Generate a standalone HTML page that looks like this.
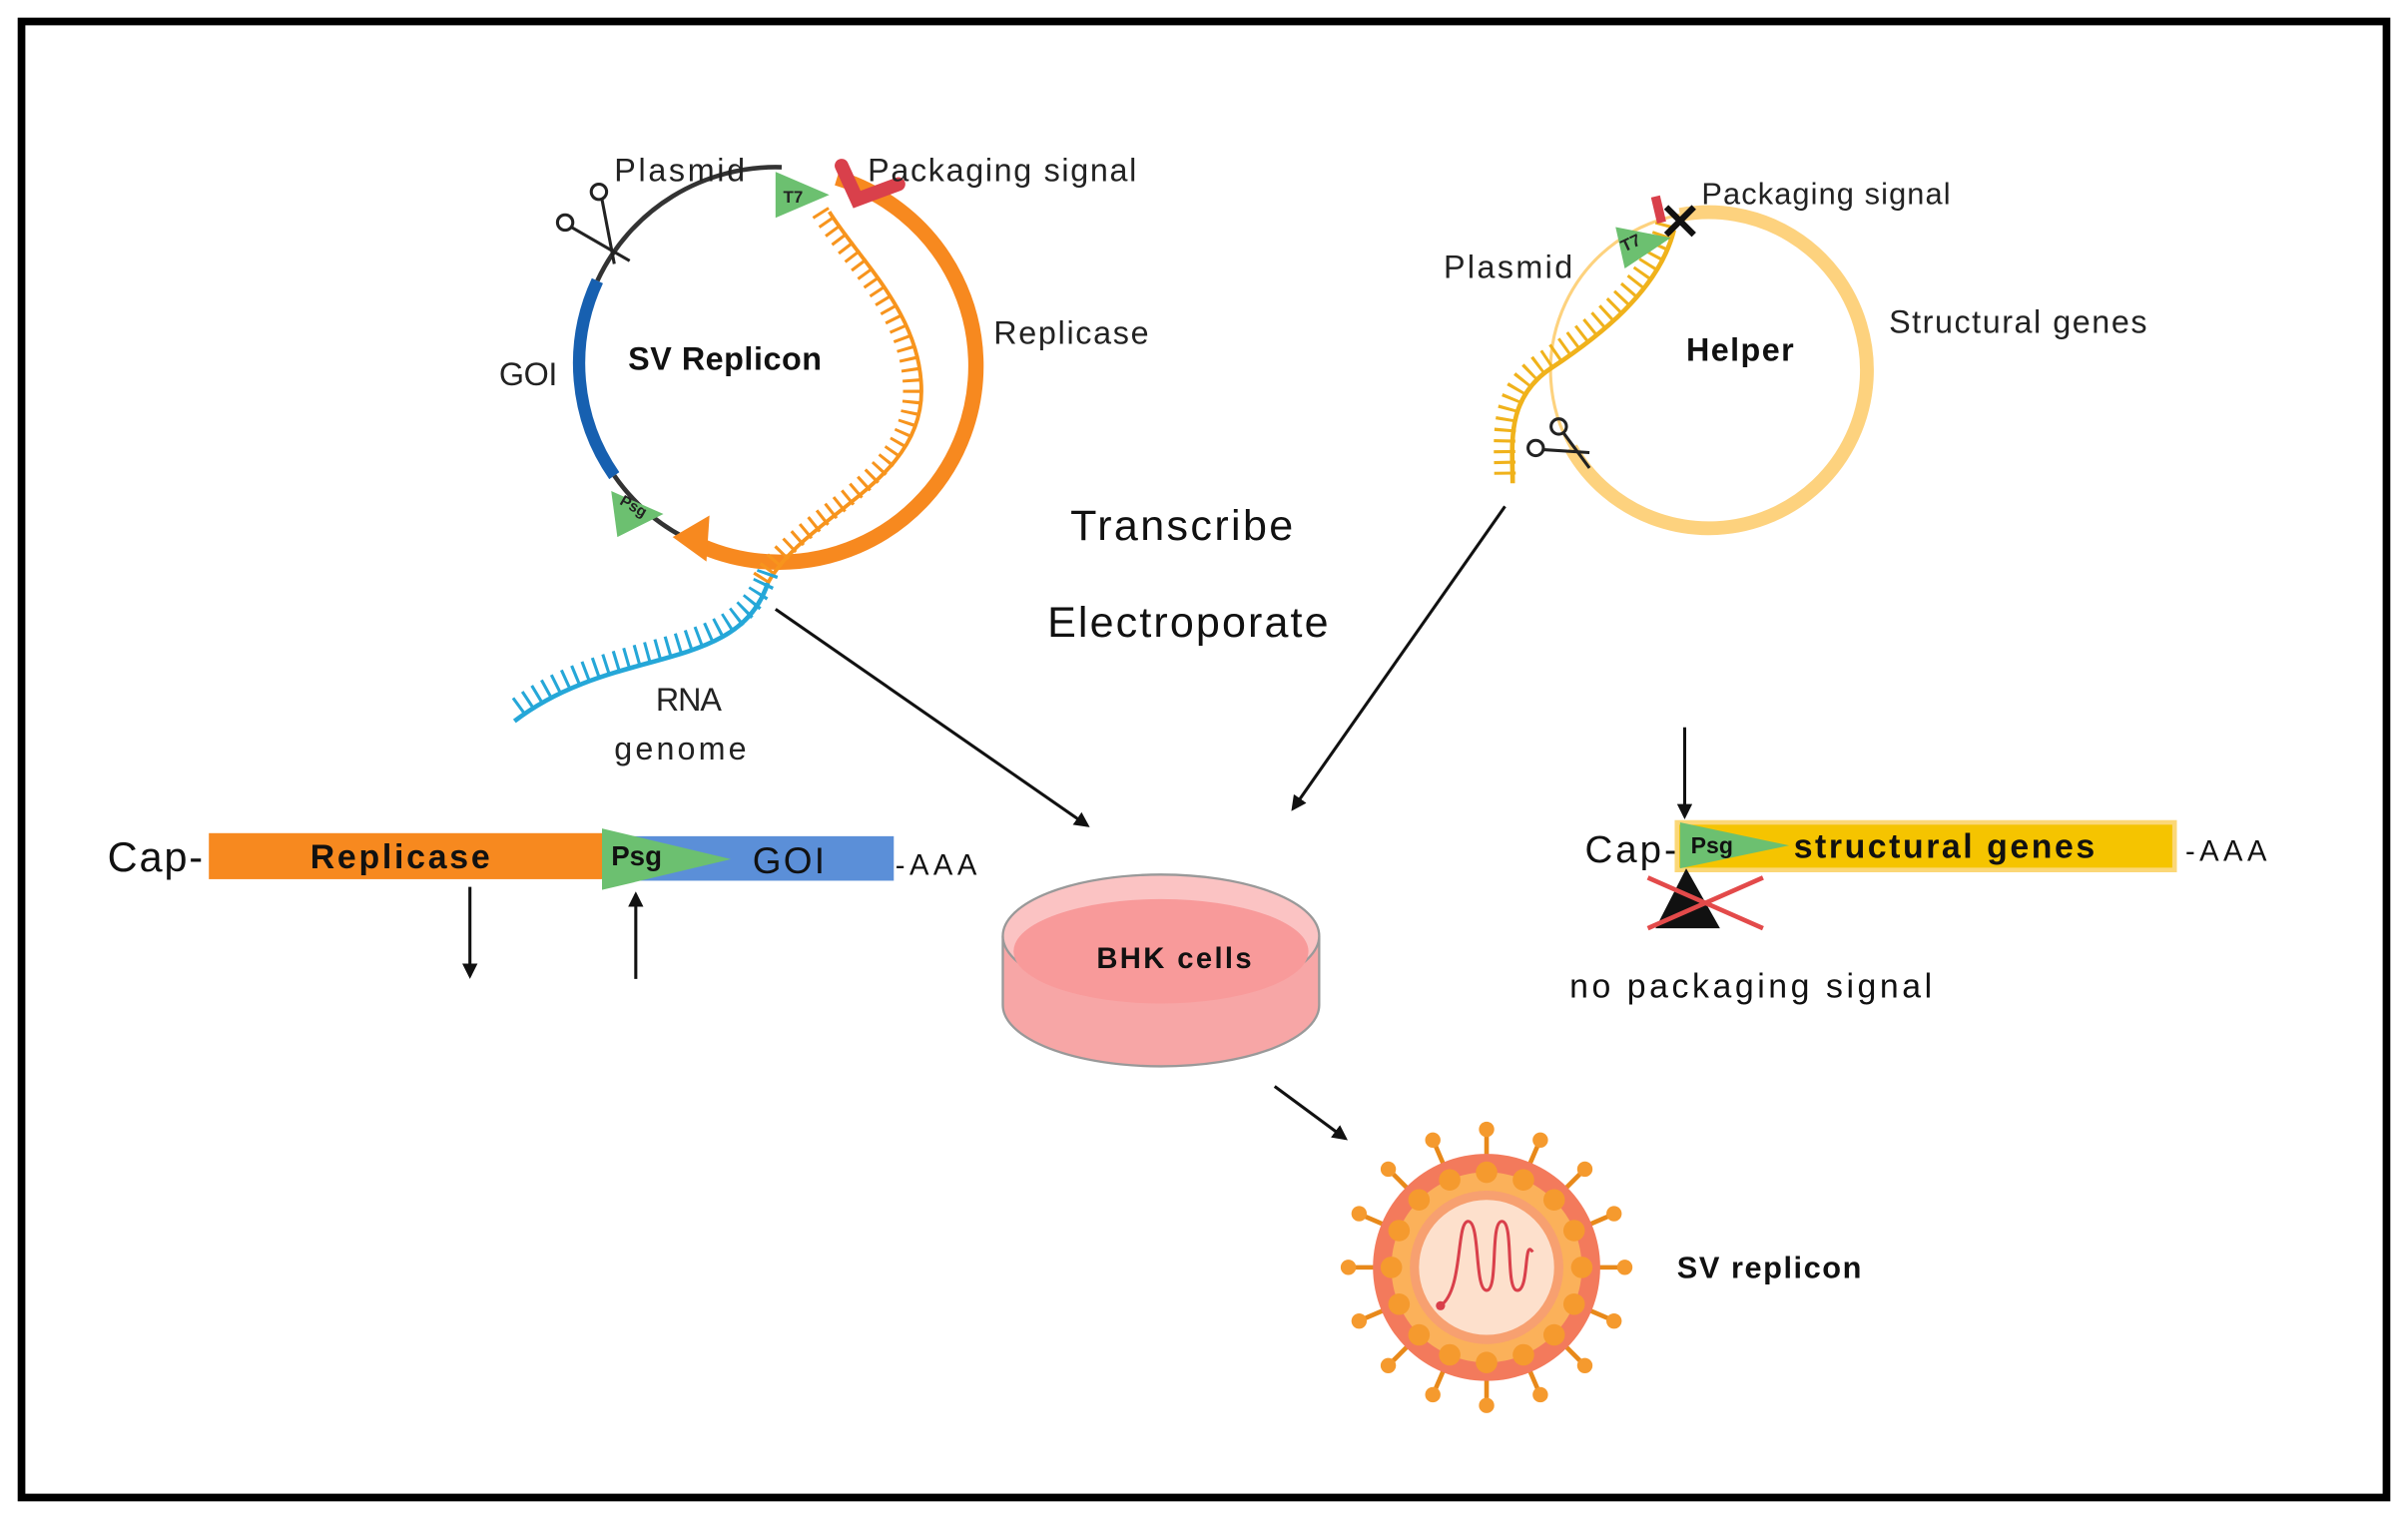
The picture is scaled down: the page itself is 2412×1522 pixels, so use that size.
<!DOCTYPE html>
<html><head><meta charset="utf-8"><style>
html,body{margin:0;padding:0;background:#fff;}
svg{display:block;}
text{font-family:"Liberation Sans",sans-serif;}
</style></head><body>
<svg width="2412" height="1522" viewBox="0 0 1568 990" preserveAspectRatio="none" xmlns="http://www.w3.org/2000/svg">
<defs>
<marker id="ah" markerWidth="10" markerHeight="10" refX="8" refY="5" orient="auto" markerUnits="userSpaceOnUse">
<path d="M0,0 L10,5 L0,10 Z" fill="#111"/></marker>
</defs>
<rect x="0" y="0" width="1568" height="990" fill="#fff"/>
<rect x="14" y="14" width="1540" height="962" fill="none" stroke="#000" stroke-width="5"/>

<!-- SV Replicon plasmid -->
<path d="M389,183 A128,128 0 0 1 509,109" fill="none" stroke="#333" stroke-width="3"/>
<path d="M389,183 A128,128 0 0 0 400,310" fill="none" stroke="#1760b0" stroke-width="8"/>
<path d="M400,310 A128,128 0 0 0 445,350" fill="none" stroke="#333" stroke-width="3"/>
<path d="M545,116 A128,128 0 1 1 457,356" fill="none" stroke="#f7891f" stroke-width="10"/>
<polygon points="438,350 462,336 460,366" fill="#f7891f"/>
<polygon points="505,112 505,142 540,127" fill="#6cc070"/>
<text x="510" y="132" font-size="11" font-weight="bold" fill="#222">T7</text>
<path d="M548,108 L558,130 L585,120" fill="none" stroke="#d9404b" stroke-width="9" stroke-linecap="round"/>
<polygon points="398,320 402,350 432,335" fill="#6cc070"/>
<text x="403" y="332" font-size="10" font-weight="bold" fill="#222" transform="rotate(30 410 330)">Psg</text>
<!-- wavy RNA -->
<path d="M540,138 C560,170 600,205 600,255 C600,315 525,335 500,380" fill="none" stroke="#f7941d" stroke-width="2.5"/>
<path d="M540,138 C560,170 600,205 600,255 C600,315 525,335 500,380" fill="none" stroke="#f7941d" stroke-width="12" stroke-dasharray="2,5" transform="translate(-6,0)"/>
<path d="M500,380 C480,440 400,420 335,470" fill="none" stroke="#25a7d8" stroke-width="3"/>
<path d="M500,380 C480,440 400,420 335,470" fill="none" stroke="#25a7d8" stroke-width="14" stroke-dasharray="2,5" transform="translate(0,-7)"/>
<!-- scissors -->
<g stroke="#222" stroke-width="2" fill="none"><circle cx="368" cy="145" r="5"/><circle cx="390" cy="125" r="5"/><line x1="372" y1="148" x2="410" y2="170"/><line x1="392" y1="130" x2="400" y2="172"/></g>
<text x="400" y="118" font-size="21" fill="#222" textLength="85">Plasmid</text>
<text x="565" y="118" font-size="21" fill="#222" textLength="175">Packaging signal</text>
<text x="647" y="224" font-size="21" fill="#222" textLength="101">Replicase</text>
<text x="325" y="251" font-size="21" fill="#222" textLength="38">GOI</text>
<text x="409" y="241" font-size="21" font-weight="bold" fill="#111" textLength="126">SV Replicon</text>
<text x="427" y="463" font-size="21" fill="#222" textLength="43">RNA</text>
<text x="400" y="495" font-size="21" fill="#222" textLength="86">genome</text>
<text x="697" y="352" font-size="28" fill="#111" textLength="145">Transcribe</text>
<text x="682" y="415" font-size="28" fill="#111" textLength="183">Electroporate</text>

<!-- Helper -->
<path d="M1094,140 A103,103 0 1 1 1023,292" fill="none" stroke="#fdd27e" stroke-width="9"/>
<path d="M1023,292 A103,103 0 0 1 1094,140" fill="none" stroke="#fdd27e" stroke-width="2"/>
<path d="M1090,150 C1080,190 1040,220 1010,240 C980,260 985,290 985,315" fill="none" stroke="#f0b21b" stroke-width="3"/>
<path d="M1090,150 C1080,190 1040,220 1010,240 C980,260 985,290 985,315" fill="none" stroke="#f0b21b" stroke-width="14" stroke-dasharray="2,5" transform="translate(-5,-4)"/>
<polygon points="1052,148 1058,175 1088,155" fill="#6cc070"/>
<text x="1056" y="163" font-size="11" font-weight="bold" fill="#222" transform="rotate(-25 1060 160)">T7</text>
<line x1="1078" y1="128" x2="1082" y2="145" stroke="#d9404b" stroke-width="6"/>
<path d="M1085,135 L1103,153 M1103,135 L1085,153" stroke="#111" stroke-width="4"/>
<g stroke="#222" stroke-width="2" fill="none"><circle cx="1015" cy="278" r="5"/><circle cx="1000" cy="292" r="5"/><line x1="1018" y1="282" x2="1035" y2="305"/><line x1="1004" y1="293" x2="1035" y2="295"/></g>
<text x="1108" y="133" font-size="20" fill="#222" textLength="162">Packaging signal</text>
<text x="940" y="181" font-size="21" fill="#222" textLength="84">Plasmid</text>
<text x="1230" y="217" font-size="21" fill="#222" textLength="168">Structural genes</text>
<text x="1098" y="235" font-size="21" font-weight="bold" fill="#111" textLength="70">Helper</text>

<!-- arrows -->
<g stroke="#111" stroke-width="2" fill="none">
<line x1="505" y1="397" x2="708" y2="538" marker-end="url(#ah)"/>
<line x1="980" y1="330" x2="842" y2="527" marker-end="url(#ah)"/>
<line x1="830" y1="708" x2="876" y2="742" marker-end="url(#ah)"/>
<line x1="306" y1="578" x2="306" y2="636" marker-end="url(#ah)"/>
<line x1="414" y1="638" x2="414" y2="583" marker-end="url(#ah)"/>
<line x1="1097" y1="474" x2="1097" y2="532" marker-end="url(#ah)"/>
</g>

<!-- left bar -->
<text x="70" y="568" font-size="27" fill="#111" textLength="62">Cap-</text>
<rect x="136" y="543" width="256" height="30" fill="#f7891f"/>
<rect x="392" y="545" width="190" height="29" fill="#5b8fd8"/>
<polygon points="392,540 392,580 476,560" fill="#6cc070"/>
<text x="202" y="566" font-size="22" font-weight="bold" fill="#111" textLength="117">Replicase</text>
<text x="398" y="564" font-size="18" font-weight="bold" fill="#111">Psg</text>
<text x="490" y="569" font-size="24" fill="#111" textLength="47">GOI</text>
<text x="583" y="570" font-size="19" fill="#111" textLength="53">-AAA</text>

<!-- right bar -->
<text x="1032" y="562" font-size="25" fill="#111" textLength="60">Cap-</text>
<rect x="1092" y="536" width="324" height="31" fill="#f5c400" stroke="#fbd777" stroke-width="3"/>
<polygon points="1094,536 1094,566 1165,551" fill="#6cc070"/>
<text x="1101" y="556" font-size="15" font-weight="bold" fill="#111">Psg</text>
<text x="1168" y="559" font-size="22" font-weight="bold" fill="#111" textLength="196">structural genes</text>
<text x="1423" y="561" font-size="19" fill="#111" textLength="53">-AAA</text>
<polygon points="1098,566 1078,605 1120,605" fill="#111"/>
<path d="M1073,572 L1148,605 M1073,605 L1148,572" stroke="#e34a4a" stroke-width="3"/>
<text x="1022" y="650" font-size="22" fill="#111" textLength="236">no packaging signal</text>

<!-- dish -->
<path d="M653,610 L653,655 A103,40 0 0 0 859,655 L859,610" fill="#f7a6a6" stroke="#999" stroke-width="1.5"/>
<ellipse cx="756" cy="610" rx="103" ry="40" fill="#fbc3c3" stroke="#999" stroke-width="1.5"/>
<ellipse cx="756" cy="620" rx="96" ry="34" fill="#f89a9a"/>
<text x="714" y="631" font-size="19" font-weight="bold" fill="#111" textLength="101">BHK cells</text>

<!-- virus -->
<g transform="translate(968,826)">
<g stroke="#e8891a" stroke-width="3">
<line x1="0" y1="-72" x2="0" y2="-88"/><line x1="0" y1="72" x2="0" y2="88"/><line x1="-72" y1="0" x2="-88" y2="0"/><line x1="72" y1="0" x2="88" y2="0"/>
<line x1="51" y1="51" x2="62" y2="62"/><line x1="-51" y1="51" x2="-62" y2="62"/><line x1="51" y1="-51" x2="62" y2="-62"/><line x1="-51" y1="-51" x2="-62" y2="-62"/>
<line x1="28" y1="-67" x2="34" y2="-81"/><line x1="-28" y1="-67" x2="-34" y2="-81"/><line x1="28" y1="67" x2="34" y2="81"/><line x1="-28" y1="67" x2="-34" y2="81"/>
<line x1="67" y1="28" x2="81" y2="34"/><line x1="-67" y1="28" x2="-81" y2="34"/><line x1="67" y1="-28" x2="81" y2="-34"/><line x1="-67" y1="-28" x2="-81" y2="-34"/>
</g>
<g fill="#f59a2e">
<circle cx="0" cy="-90" r="5"/><circle cx="0" cy="90" r="5"/><circle cx="-90" cy="0" r="5"/><circle cx="90" cy="0" r="5"/>
<circle cx="64" cy="64" r="5"/><circle cx="-64" cy="64" r="5"/><circle cx="64" cy="-64" r="5"/><circle cx="-64" cy="-64" r="5"/>
<circle cx="35" cy="-83" r="5"/><circle cx="-35" cy="-83" r="5"/><circle cx="35" cy="83" r="5"/><circle cx="-35" cy="83" r="5"/>
<circle cx="83" cy="35" r="5"/><circle cx="-83" cy="35" r="5"/><circle cx="83" cy="-35" r="5"/><circle cx="-83" cy="-35" r="5"/>
</g>
<circle r="74" fill="#f37a5c"/>
<circle r="62" fill="#fbb15a"/>
<g fill="#f59a2e">
<circle cx="0" cy="-62" r="7"/><circle cx="0" cy="62" r="7"/><circle cx="-62" cy="0" r="7"/><circle cx="62" cy="0" r="7"/>
<circle cx="44" cy="44" r="7"/><circle cx="-44" cy="44" r="7"/><circle cx="44" cy="-44" r="7"/><circle cx="-44" cy="-44" r="7"/>
<circle cx="24" cy="-57" r="7"/><circle cx="-24" cy="-57" r="7"/><circle cx="24" cy="57" r="7"/><circle cx="-24" cy="57" r="7"/>
<circle cx="57" cy="24" r="7"/><circle cx="-57" cy="24" r="7"/><circle cx="57" cy="-24" r="7"/><circle cx="-57" cy="-24" r="7"/>
</g>
<circle r="50" fill="#f7a070"/>
<circle r="44" fill="#fde0cc"/>
<path d="M-30,25 C-15,15 -20,-30 -12,-30 C-4,-30 -8,15 0,15 C8,15 2,-30 10,-30 C18,-30 12,15 20,15 C28,15 24,-20 30,-10" fill="none" stroke="#d9404b" stroke-width="2"/>
<circle cx="-30" cy="25" r="3" fill="#d9404b"/>
</g>
<text x="1092" y="833" font-size="20" font-weight="bold" fill="#111" textLength="120">SV replicon</text>
</svg>
</body></html>
